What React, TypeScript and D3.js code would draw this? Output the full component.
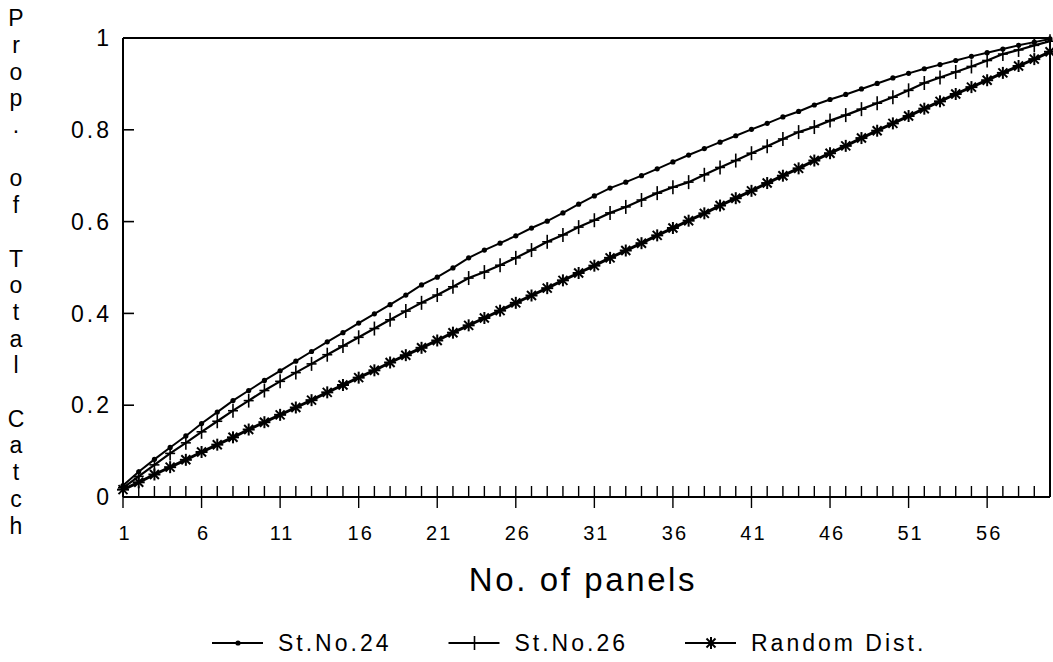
import React from 'react';
import * as d3 from 'd3';

// panels 1..60
const panels = d3.range(1, 61);

const stNo24 = [
  0.025, 0.055, 0.082, 0.108, 0.133, 0.160, 0.185, 0.210, 0.232, 0.254,
  0.275, 0.296, 0.317, 0.338, 0.358, 0.379, 0.399, 0.419, 0.440, 0.462,
  0.479, 0.499, 0.521, 0.538, 0.553, 0.569, 0.586, 0.601, 0.619, 0.638,
  0.656, 0.673, 0.686, 0.700, 0.715, 0.730, 0.745, 0.759, 0.773, 0.787,
  0.801, 0.814, 0.828, 0.840, 0.854, 0.866, 0.877, 0.889, 0.901, 0.913,
  0.923, 0.933, 0.942, 0.951, 0.960, 0.968, 0.976, 0.984, 0.991, 0.998,
];

const stNo26 = [
  0.020, 0.045, 0.070, 0.095, 0.118, 0.142, 0.165, 0.188, 0.210, 0.232,
  0.252, 0.271, 0.290, 0.310, 0.329, 0.348, 0.367, 0.386, 0.405, 0.423,
  0.440, 0.458, 0.477, 0.490, 0.505, 0.521, 0.538, 0.556, 0.571, 0.588,
  0.603, 0.619, 0.632, 0.647, 0.662, 0.675, 0.686, 0.702, 0.718, 0.733,
  0.749, 0.764, 0.780, 0.795, 0.806, 0.820, 0.832, 0.845, 0.858, 0.871,
  0.886, 0.902, 0.914, 0.926, 0.938, 0.951, 0.965, 0.974, 0.984, 0.993,
];

const randomDist = [
  0.016, 0.032, 0.049, 0.065, 0.081, 0.098, 0.114, 0.130, 0.147, 0.163,
  0.179, 0.195, 0.211, 0.228, 0.244, 0.260, 0.276, 0.293, 0.309, 0.325,
  0.341, 0.358, 0.374, 0.390, 0.406, 0.423, 0.439, 0.455, 0.472, 0.488,
  0.504, 0.521, 0.537, 0.553, 0.570, 0.586, 0.602, 0.618, 0.635, 0.651,
  0.667, 0.684, 0.700, 0.716, 0.733, 0.749, 0.765, 0.782, 0.798, 0.814,
  0.830, 0.846, 0.862, 0.878, 0.893, 0.908, 0.924, 0.939, 0.954, 0.970,
];

const yTicks = [0, 0.2, 0.4, 0.6, 0.8, 1];
const yTickLabels = ['0', '0.2', '0.4', '0.6', '0.8', '1'];
const xLabelTicks = [1, 6, 11, 16, 21, 26, 31, 36, 41, 46, 51, 56];
const yTitle = 'Prop. of Total Catch';
const xTitle = 'No. of panels';
const seriesNames = ['St.No.24', 'St.No.26', 'Random Dist.'];

const W = 1053;
const H = 662;
const left = 123;
const right = 1050;
const top = 38;
const bottom = 497;
const font = '"Liberation Sans", Arial, sans-serif';

function Marker({ kind, x, y }: { kind: number; x: number; y: number }) {
  if (kind === 0) {
    return <circle cx={x} cy={y} r={2.6} fill="#000" />;
  }
  if (kind === 1) {
    return (
      <g stroke="#000" strokeWidth={1.6}>
        <line x1={x} x2={x} y1={y - 7} y2={y + 7} />
        <line x1={x - 5} x2={x + 5} y1={y} y2={y} />
      </g>
    );
  }
  const r = 6;
  return (
    <g stroke="#000" strokeWidth={2}>
      <line x1={x} x2={x} y1={y - r} y2={y + r} />
      <line x1={x - r} x2={x + r} y1={y} y2={y} />
      <line x1={x - r * 0.75} x2={x + r * 0.75} y1={y - r * 0.75} y2={y + r * 0.75} />
      <line x1={x - r * 0.75} x2={x + r * 0.75} y1={y + r * 0.75} y2={y - r * 0.75} />
    </g>
  );
}

export default function App() {
  const x = d3.scaleLinear().domain([1, 60]).range([left, right]);
  const y = d3.scaleLinear().domain([0, 1]).range([bottom, top]);

  const series = [stNo24, stNo26, randomDist];
  const widths = [2, 2.2, 3];

  const line = d3
    .line<number>()
    .x((d, i) => x(panels[i]))
    .y((d) => y(d));

  const legendStart = 212;
  const legendStep = 236.5;

  return (
    <div style={{ position: 'absolute', left: 0, top: 0 }}>
      <svg width={W} height={H} style={{ display: 'block', background: '#fff' }}>
        {/* frame */}
        <g stroke="#000" strokeWidth={2} fill="none">
          <line x1={left} x2={right} y1={top} y2={top} />
          <line x1={right} x2={right} y1={top} y2={bottom} />
          <line x1={left} x2={left} y1={top} y2={bottom} />
          <line x1={left} x2={right} y1={bottom} y2={bottom} />
        </g>

        {/* y ticks */}
        {yTicks.map((t, i) => (
          <g key={'yt' + i}>
            {t > 0 && t < 1 && (
              <line x1={left} x2={left + 11} y1={y(t)} y2={y(t)} stroke="#000" strokeWidth={1.6} />
            )}
            <text
              x={112}
              y={y(t)}
              dy="0.36em"
              textAnchor="end"
              fontFamily={font}
              fontSize={23}
              letterSpacing={3}
            >
              {yTickLabels[i]}
            </text>
          </g>
        ))}

        {/* x ticks */}
        {panels.map((p) => (
          <line
            key={'xt' + p}
            x1={x(p)}
            x2={x(p)}
            y1={bottom - 11}
            y2={xLabelTicks.includes(p) ? bottom + 11 : bottom}
            stroke="#000"
            strokeWidth={1.4}
          />
        ))}
        {xLabelTicks.map((p) => (
          <text
            key={'xl' + p}
            x={x(p) + 2}
            y={533}
            dy="0.36em"
            textAnchor="middle"
            fontFamily={font}
            fontSize={20}
            letterSpacing={2}
          >
            {p}
          </text>
        ))}

        {/* axis titles */}
        <text
          x={583}
          y={579}
          dy="0.36em"
          textAnchor="middle"
          fontFamily={font}
          fontSize={33}
          letterSpacing={2.6}
        >
          {xTitle}
        </text>
        <g fontFamily={font} fontSize={23} textAnchor="middle">
          {yTitle.split('').map((ch, i) => (
            <text key={'yl' + i} x={16} y={18 + i * 26.7} dy="0.36em">
              {ch}
            </text>
          ))}
        </g>

        {/* series */}
        {series.map((s, k) => (
          <g key={'s' + k}>
            <path d={line(s) || ''} fill="none" stroke="#000" strokeWidth={widths[k]} />
            {s.map((v, i) => (
              <Marker key={i} kind={k} x={x(panels[i])} y={y(v)} />
            ))}
          </g>
        ))}

        {/* legend */}
        {seriesNames.map((name, k) => {
          const lx = legendStart + k * legendStep;
          return (
            <g key={'lg' + k}>
              <line x1={lx} x2={lx + 51} y1={643} y2={643} stroke="#000" strokeWidth={2} />
              <Marker kind={k} x={lx + 26} y={643} />
              <text
                x={lx + 66}
                y={643}
                dy="0.36em"
                fontFamily={font}
                fontSize={23}
                letterSpacing={3}
              >
                {name}
              </text>
            </g>
          );
        })}
      </svg>
    </div>
  );
}
